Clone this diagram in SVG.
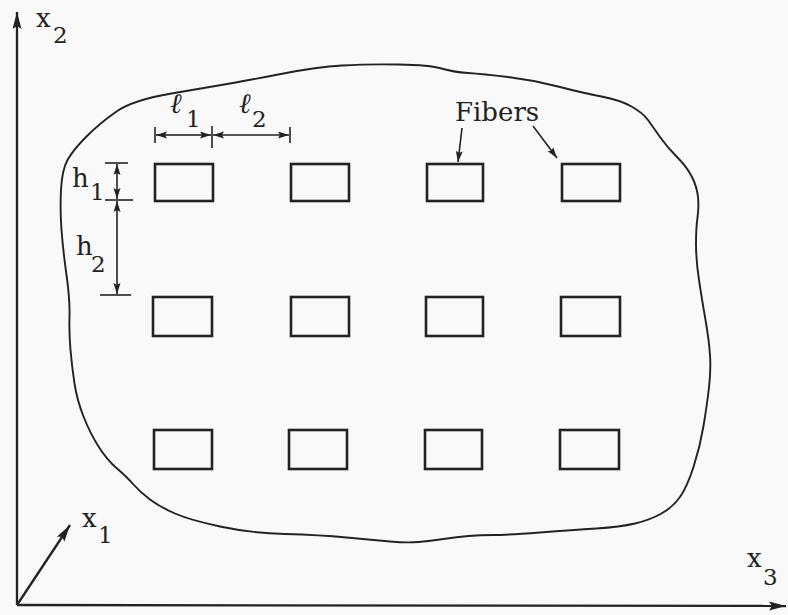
<svg xmlns="http://www.w3.org/2000/svg" width="788" height="615" viewBox="0 0 788 615">
<style>
.ln{stroke:#222;fill:none;stroke-width:1.9}
.ax{stroke:#222;fill:none;stroke-width:2.3}
.fib{stroke:#222;fill:none;stroke-width:2.6}
.dim{stroke:#222;fill:none;stroke-width:1.6}
.t{font-family:"DejaVu Serif","Liberation Serif",serif;fill:#222;font-size:26px}
.s{font-size:23px}
.ell{font-style:italic;font-size:28px}
</style>
<defs>
<marker id="ah" markerUnits="userSpaceOnUse" markerWidth="12" markerHeight="8" refX="11" refY="3.5" orient="auto">
<path d="M0,0 L11,3.5 L0,7 L2,3.5 Z" fill="#222"/>
</marker>
<marker id="ahL" markerUnits="userSpaceOnUse" markerWidth="18" markerHeight="10" refX="17" refY="4.5" orient="auto">
<path d="M0,0 L17,4.5 L0,9 L3,4.5 Z" fill="#222"/>
</marker>
</defs>
<rect width="788" height="615" fill="#f9f9f9"/>

<g id="matrix">
<path class="ln" d="M61,190 Q62,170 67.5,160 Q73,150 86.5,136.5 Q100,123 116.5,111.5 Q133,100 171.5,93.5 Q210,87 230,83.5 Q250,80 283.5,73.5 Q317,67 342,65.5 Q367,64 398.5,64.5 Q430,65 441.5,68.5 Q453,72 468,73 Q483,74 508,77 Q533,80 558,86.5 Q583,93 601.5,96.5 Q620,100 631.5,106.5 Q643,113 648,120 Q653,127 660,137 Q667,147 677,157 Q687,167 692,177 Q697,187 698,197 Q699,207 697.5,217.5 Q696,228 696,244 Q696,260 699,280 Q702,300 705.5,320 Q709,340 710,355 Q711,370 709,387.5 Q707,405 703.5,426 Q700,447 693.5,467 Q687,487 680,497 Q673,507 661.5,513.5 Q650,520 635,523.5 Q620,527 596.5,528.5 Q573,530 540,532.5 Q507,535 493.5,535 Q480,535 468.5,536 Q457,537 443.5,539 Q430,541 418.5,542 Q407,543 390,541.5 Q373,540 346.5,537.5 Q320,535 285,534 Q250,533 220,526.5 Q190,520 175,513.5 Q160,507 150,499.5 Q140,492 133.5,484.5 Q127,477 117,468.5 Q107,460 98.5,446.5 Q90,433 83.5,416.5 Q77,400 74.5,383.5 Q72,367 70.5,350 Q69,333 69.5,316.5 Q70,300 66.5,275 Q63,250 61.5,230 Q60,210 61,190 Z"/>
</g>

<g id="fibers">
<rect id="f11" class="fib" x="155" y="164" width="58" height="37"/>
<rect id="f12" class="fib" x="291" y="164" width="58" height="37"/>
<rect id="f13" class="fib" x="427" y="164" width="56" height="37"/>
<rect id="f14" class="fib" x="562" y="164" width="58" height="37"/>
<rect id="f21" class="fib" x="153" y="297" width="59" height="39"/>
<rect id="f22" class="fib" x="291" y="297" width="58" height="39"/>
<rect id="f23" class="fib" x="426" y="297" width="57" height="39"/>
<rect id="f24" class="fib" x="561" y="297" width="59" height="39"/>
<rect id="f31" class="fib" x="154" y="430" width="58" height="39"/>
<rect id="f32" class="fib" x="289" y="430" width="58" height="39"/>
<rect id="f33" class="fib" x="425" y="430" width="57" height="39"/>
<rect id="f34" class="fib" x="560" y="430" width="59" height="39"/>
</g>

<g id="axes">
<line class="ax" x1="17" y1="605" x2="17" y2="12" marker-end="url(#ahL)"/>
<line class="ax" x1="17" y1="605" x2="786" y2="606" marker-end="url(#ahL)"/>
<line class="ax" x1="17" y1="605" x2="70" y2="525" marker-end="url(#ahL)"/>
</g>

<g id="connectors">
<line class="dim" x1="155" y1="127" x2="155" y2="143"/>
<line class="dim" x1="212" y1="126" x2="212" y2="148"/>
<line class="dim" x1="290" y1="127" x2="290" y2="143"/>
<line class="dim" x1="183" y1="135" x2="156" y2="135" marker-end="url(#ah)"/>
<line class="dim" x1="183" y1="135" x2="211" y2="135" marker-end="url(#ah)"/>
<line class="dim" x1="251" y1="135" x2="213" y2="135" marker-end="url(#ah)"/>
<line class="dim" x1="251" y1="135" x2="289" y2="135" marker-end="url(#ah)"/>
<line class="dim" x1="105" y1="163" x2="128" y2="163"/>
<line class="dim" x1="105" y1="200" x2="133" y2="200"/>
<line class="dim" x1="100" y1="295" x2="131" y2="295"/>
<line class="dim" x1="117" y1="181" x2="117" y2="164" marker-end="url(#ah)"/>
<line class="dim" x1="117" y1="181" x2="117" y2="199" marker-end="url(#ah)"/>
<line class="dim" x1="117" y1="248" x2="117" y2="201" marker-end="url(#ah)"/>
<line class="dim" x1="117" y1="248" x2="117" y2="294" marker-end="url(#ah)"/>
<line class="dim" x1="462" y1="128" x2="458" y2="162" marker-end="url(#ah)"/>
<line class="dim" x1="533" y1="126" x2="557" y2="158" marker-end="url(#ah)"/>
</g>

<g id="labels">
<text class="t" x="36" y="27">x</text><text class="t s" x="53" y="43">2</text>
<text class="t" x="82" y="527">x</text><text class="t s" x="98" y="543">1</text>
<text class="t" x="747" y="567">x</text><text class="t s" x="763" y="585">3</text>
<text class="t" x="455" y="121">Fibers</text>
<text class="t ell" x="170" y="113">ℓ</text><text class="t s" x="186" y="127">1</text>
<text class="t ell" x="239" y="113">ℓ</text><text class="t s" x="252" y="127">2</text>
<text class="t" x="72" y="187">h</text><text class="t s" x="90" y="200">1</text>
<text class="t" x="76" y="255">h</text><text class="t s" x="91" y="272">2</text>
</g>
</svg>
